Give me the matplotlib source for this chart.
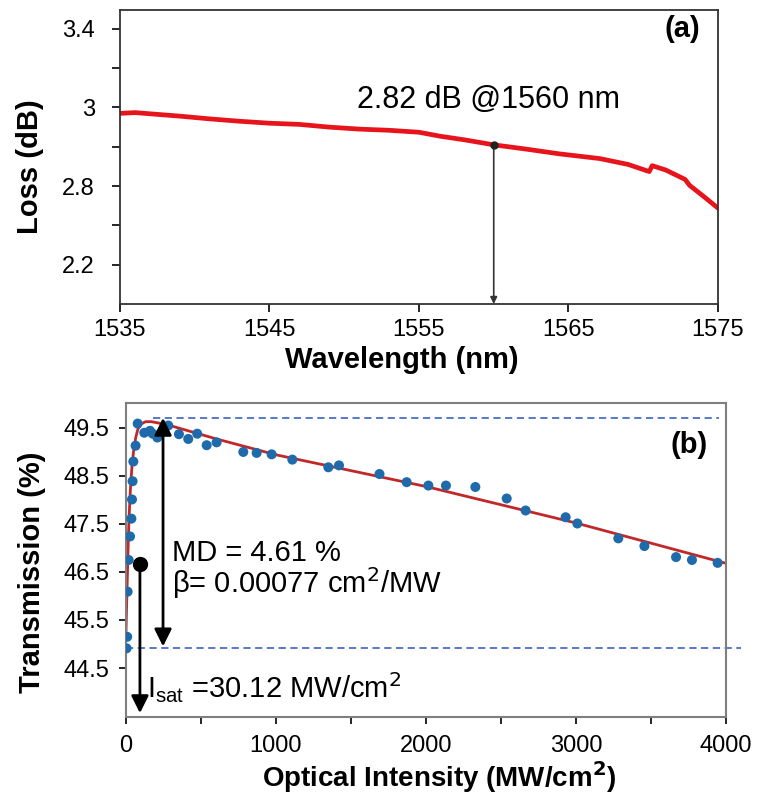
import numpy as np
import matplotlib
matplotlib.use("Agg")
import matplotlib.pyplot as plt

plt.rcParams['font.family'] = ['Liberation Sans', 'DejaVu Sans']

# === (a) loss spectrum
# y is in tick-position units (the printed tick labels are not evenly spaced)
wl = [1535, 1536, 1537, 1539, 1541, 1543, 1545, 1547, 1549, 1551, 1553, 1555,
      1556.4, 1558, 1560, 1562, 1564.4, 1567.1, 1569, 1570.4, 1570.6, 1571.5,
      1572.8, 1573.1, 1574, 1575]
loss_pos = [4.85, 4.87, 4.84, 4.78, 4.71, 4.65, 4.60, 4.57, 4.50, 4.45, 4.42, 4.37,
            4.27, 4.18, 4.05, 3.95, 3.82, 3.70, 3.55, 3.37, 3.52, 3.41,
            3.17, 3.02, 2.75, 2.44]
loss_ticks = [1, 2, 3, 4, 5, 6, 7]
loss_ticklabels = ['2.2', '', '2.8', '', '3', '', '3.4']
wl_mark = 1560
loss_mark_pos = 4.05

# === (b) nonlinear transmission
intensity = [4, 8, 11, 18, 27, 36, 40, 44, 49, 64, 78, 122, 160, 178, 209, 282,
             353, 415, 475, 538, 604, 782, 871, 971, 1109, 1349, 1420, 1690,
             1871, 2016, 2133, 2329, 2538, 2664, 2931, 3009, 3282, 3456, 3667,
             3773, 3944]
transmission = [44.91, 45.15, 46.09, 46.75, 47.24, 47.61, 48.01, 48.39, 48.80,
                49.13, 49.59, 49.40, 49.44, 49.38, 49.30, 49.55, 49.37, 49.27,
                49.38, 49.14, 49.20, 49.00, 48.98, 48.95, 48.84, 48.68, 48.72,
                48.54, 48.37, 48.30, 48.30, 48.27, 48.03, 47.78, 47.64, 47.51,
                47.20, 47.04, 46.81, 46.75, 46.69]
fit_i = [0, 5, 10, 15, 20, 30, 40, 50, 65, 80, 100, 130, 170, 220, 282, 604,
         1000, 2000, 3000, 4000]
fit_t = [45.25, 45.9, 46.5, 47.1, 47.6, 48.25, 48.7, 49.0, 49.3, 49.48, 49.58,
         49.63, 49.63, 49.6, 49.56, 49.27, 48.94, 48.28, 47.52, 46.68]
t_max, t_min = 49.71, 44.91
i_md = 247
i_sat, t_sat = 93, 46.66

fig = plt.figure(figsize=(7.58, 7.94), dpi=100)

# ---------------- (a)
ax1 = fig.add_axes([0.1583, 0.6171, 0.7889, 0.3703])
ax1.plot(wl, loss_pos, color='#e8141c', lw=3.4, solid_joinstyle='round')
ax1.set_xlim(1535, 1575)
ax1.set_ylim(0, 7.48)
ax1.set_xticks([1535, 1545, 1555, 1565, 1575])
ax1.set_yticks(loss_ticks)
ax1.set_yticklabels(loss_ticklabels)
ax1.tick_params(direction='out', length=6, width=1.2, labelsize=17)
ax1.tick_params(axis='y', pad=12)
ax1.tick_params(axis='x', pad=5)
for s in ax1.spines.values():
    s.set_color('#333333')
    s.set_linewidth(1.3)
ax1.set_xlabel('Wavelength (nm)', fontsize=21, fontweight='bold', va='center')
ax1.xaxis.set_label_coords(0.472, -0.19)
ax1.set_ylabel('Loss (dB)', fontsize=21, fontweight='bold', va='center')
ax1.yaxis.set_label_coords(-0.1505, 0.469)

ax1.plot(wl_mark, loss_mark_pos, 'o', color='#222222', ms=5, zorder=4)
ax1.annotate('', xy=(wl_mark, 0), xytext=(wl_mark, loss_mark_pos),
             arrowprops=dict(arrowstyle='-|>', color='#333333', lw=1.2,
                             mutation_scale=10, shrinkA=0, shrinkB=0))
ax1.text(1550.85, 5.19, '2.82 dB @1560 nm', fontsize=22, va='center', ha='left')
ax1.text(0.97, 0.935, '(a)', transform=ax1.transAxes, fontsize=21,
         fontweight='bold', ha='right', va='center')

# ---------------- (b)
ax2 = fig.add_axes([0.1662, 0.0970, 0.7916, 0.3955])
ax2.plot(fit_i, fit_t, color='#c0282a', lw=2, zorder=2)
ax2.scatter(intensity, transmission, s=52, color='#1f6aab', zorder=3,
            edgecolors='none')
ax2.set_xlim(0, 4000)
ax2.set_ylim(43.48, 50.02)
ax2.set_xticks([0, 1000, 2000, 3000, 4000])
ax2.set_xticks([500, 1500, 2500, 3500], minor=True)
ax2.set_yticks([44.5, 45.5, 46.5, 47.5, 48.5, 49.5])
ax2.tick_params(direction='out', length=5, width=1.2, labelsize=17)
ax2.tick_params(which='minor', direction='out', length=5, width=1.2)
ax2.tick_params(axis='y', pad=7)
ax2.tick_params(axis='x', pad=8)
for s in ax2.spines.values():
    s.set_color('#7f7f7f')
    s.set_linewidth(1.5)
ax2.set_xlabel('Optical Intensity (MW/cm$^\\mathbf{2}$)', fontsize=20,
               fontweight='bold', va='center')
ax2.xaxis.set_label_coords(0.522, -0.19)
ax2.set_ylabel('Transmission (%)', fontsize=21, fontweight='bold', va='center')
ax2.yaxis.set_label_coords(-0.157, 0.462)

ax2.plot([180, 3950], [t_max, t_max], ls='--', color='#4a6fc4', lw=1.3, dashes=(4, 2.5))
ax2.plot([0, 4100], [t_min, t_min], ls='--', color='#4a6fc4', lw=1.3, dashes=(4, 2.5),
         clip_on=False)
ax2.annotate('', xy=(i_md, t_min + 0.04), xytext=(i_md, t_max),
             arrowprops=dict(arrowstyle='<|-|>', color='black', lw=2,
                             mutation_scale=26, shrinkA=0, shrinkB=0))
ax2.plot(i_sat, t_sat, 'o', color='black', ms=10, zorder=4)
ax2.annotate('', xy=(i_sat, 43.56), xytext=(i_sat, t_sat),
             arrowprops=dict(arrowstyle='-|>', color='black', lw=2,
                             mutation_scale=26, shrinkA=0, shrinkB=0))
ax2.text(307, 46.9, 'MD = 4.61 %', fontsize=21, va='center', ha='left')
ax2.text(307, 46.26, 'β= 0.00077 cm$^2$/MW', fontsize=21, va='center', ha='left')
ax2.text(140, 44.1, 'I$_{\\mathregular{sat}}$ =30.12 MW/cm$^2$', fontsize=21,
         va='center', ha='left')
ax2.text(0.97, 0.865, '(b)', transform=ax2.transAxes, fontsize=21,
         fontweight='bold', ha='right', va='center')

fig.savefig('out.png', dpi=100)
